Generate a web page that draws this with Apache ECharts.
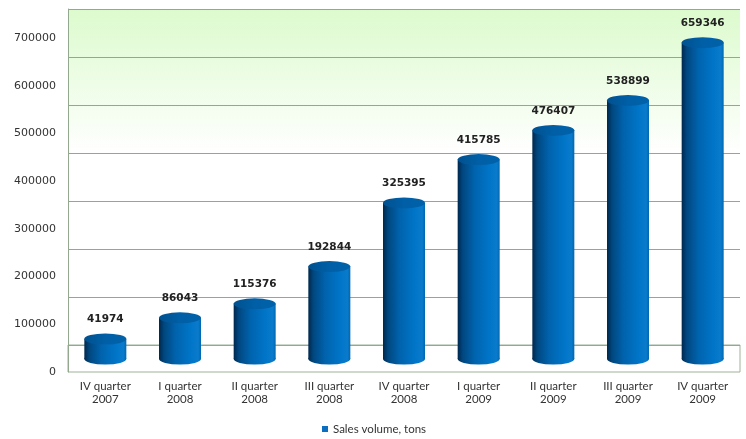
<!DOCTYPE html>
<html>
<head>
<meta charset="utf-8">
<script src="https://cdn.jsdelivr.net/npm/echarts@6/dist/echarts.min.js"></script>
<style>
  html, body { margin: 0; padding: 0; background: #fff; }
  #chart { width: 746px; height: 439px; }
</style>
</head>
<body>
<div id="chart"></div>
<script>
// data
const quarters = ['IV quarter', 'I quarter', 'II quarter', 'III quarter', 'IV quarter', 'I quarter', 'II quarter', 'III quarter', 'IV quarter']
const years = ['2007', '2008', '2008', '2008', '2008', '2009', '2009', '2009', '2009']
const sales = [41974, 86043, 115376, 192844, 325395, 415785, 476407, 538899, 659346]
const seriesName = 'Sales volume, tons'
const yMin = 0
const yMax = 700000
const yStep = 100000

const categories = quarters.map((q, i) => q + '\n' + years[i])

// cylinder body: dark left edge, bright right side
const bodyColor = {
  type: 'linear', x: 0, y: 0, x2: 1, y2: 0,
  colorStops: [
    { offset: 0, color: '#00284d' },
    { offset: 0.12, color: '#00477f' },
    { offset: 0.4, color: '#0063ad' },
    { offset: 0.75, color: '#0075c8' },
    { offset: 0.93, color: '#0a7bcc' },
    { offset: 1, color: '#0067b0' }
  ]
}
const topColor = {
  type: 'linear', x: 0, y: 0, x2: 1, y2: 0,
  colorStops: [
    { offset: 0, color: '#00518f' },
    { offset: 0.5, color: '#005fa6' },
    { offset: 1, color: '#0062aa' }
  ]
}
const gridColor = '#93a98e'
const barW = 42
const capH = 11

const chart = echarts.init(document.getElementById('chart'))

const option = {
  backgroundColor: '#fff',
  animation: false,
  legend: {
    data: [{ name: seriesName, itemStyle: { color: '#0a6fc0' } }],
    left: 317,
    top: 418,
    itemWidth: 6,
    itemHeight: 6,
    icon: 'rect',
    textStyle: { fontFamily: 'Lato', fontSize: 11.5, color: '#333' }
  },
  grid: [
    // back wall
    {
      left: 68, right: 6, top: 9, bottom: 94, show: true, borderWidth: 0,
      backgroundColor: {
        type: 'linear', x: 0, y: 0, x2: 0, y2: 1,
        colorStops: [
          { offset: 0, color: '#dcfbcd' },
          { offset: 0.43, color: '#ffffff' },
          { offset: 1, color: '#ffffff' }
        ]
      }
    },
    // front labels
    { left: 68, right: 6, top: 38, bottom: 67 },
    // cylinders
    { left: 68, right: 6, top: 23, bottom: 80 },
    // floor
    { left: 68, right: 6, top: 345, bottom: 67, show: true, borderColor: '#9db39a', borderWidth: 1 }
  ],
  xAxis: [
    { gridIndex: 0, type: 'category', data: categories, show: false },
    {
      gridIndex: 1, type: 'category', data: categories,
      axisLine: { show: false }, axisTick: { show: false },
      axisLabel: { interval: 0, margin: 8, color: '#333', fontFamily: 'Lato', fontSize: 11.5, lineHeight: 13 }
    },
    { gridIndex: 2, type: 'category', data: categories, show: false },
    { gridIndex: 3, type: 'category', data: categories, show: false }
  ],
  yAxis: [
    {
      gridIndex: 0, type: 'value', min: yMin, max: yMax, interval: yStep,
      axisLine: { show: true, lineStyle: { color: gridColor } },
      axisTick: { show: false }, axisLabel: { show: false },
      splitLine: { show: true, lineStyle: { color: gridColor, width: 1 } }
    },
    {
      gridIndex: 1, type: 'value', min: yMin, max: yMax, interval: yStep,
      axisLine: { show: true, lineStyle: { color: gridColor } },
      axisTick: { show: false }, splitLine: { show: false },
      axisLabel: {
        margin: 12, color: '#333', fontFamily: 'DejaVu Sans', fontSize: 11,
        formatter: v => String(v)
      }
    },
    { gridIndex: 2, type: 'value', min: yMin, max: yMax, interval: yStep, show: false, splitLine: { show: false } },
    { gridIndex: 3, type: 'value', min: 0, max: 1, show: false, splitLine: { show: false } }
  ],
  series: [
    {
      name: 'bottom',
      type: 'pictorialBar',
      xAxisIndex: 2, yAxisIndex: 2,
      data: sales,
      symbol: 'circle',
      symbolSize: [barW, capH],
      symbolOffset: [0, '50%'],
      symbolPosition: 'start',
      barGap: '-100%',
      itemStyle: { color: bodyColor },
      z: 1
    },
    {
      name: seriesName,
      type: 'bar',
      xAxisIndex: 2, yAxisIndex: 2,
      data: sales,
      barWidth: barW,
      barGap: '-100%',
      itemStyle: { color: bodyColor },
      label: {
        show: true, position: 'top', distance: 14,
        color: '#222', fontFamily: 'DejaVu Sans', fontWeight: 'bold', fontSize: 10.5
      },
      z: 2
    },
    {
      name: 'top',
      type: 'pictorialBar',
      xAxisIndex: 2, yAxisIndex: 2,
      data: sales,
      symbol: 'circle',
      symbolSize: [barW, capH],
      symbolOffset: [0, '-50%'],
      symbolPosition: 'end',
      barGap: '-100%',
      itemStyle: { color: topColor, borderColor: 'rgba(120,170,215,0.6)', borderWidth: 0.6 },
      z: 3
    }
  ]
}

chart.setOption(option)
</script>
</body>
</html>
